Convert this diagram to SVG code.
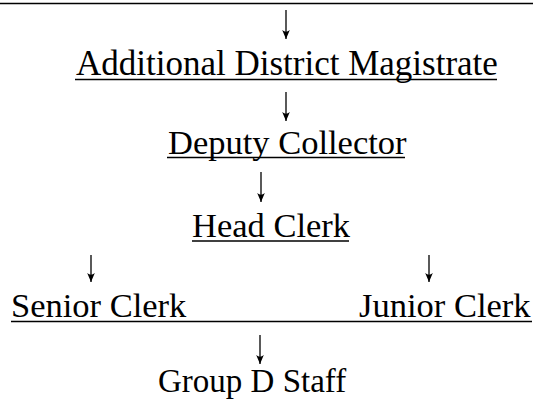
<svg xmlns="http://www.w3.org/2000/svg" width="533" height="400" viewBox="0 0 533 400">
<style>
  .lbl { font-family: "Liberation Serif", Tinos, "Times New Roman", "DejaVu Serif", serif; font-size: 34.5px; fill: #000; }
  .ul { stroke: #000; stroke-width: 1.6; fill: none; }
  .arrow { stroke: #000; stroke-width: 1.3; fill: none; marker-end: url(#head); }
</style>
<defs>
  <marker id="head" markerUnits="userSpaceOnUse" markerWidth="12" markerHeight="10" viewBox="-10 -5 12 10" refX="0" refY="0" orient="auto" overflow="visible">
    <path d="M-9,-3.8 L0,0 L-9,3.8 Q-5.5,0 -9,-3.8 Z" fill="#000"/>
  </marker>
</defs>
<rect width="533" height="400" fill="#fff"/>
<line x1="0" y1="3.5" x2="533" y2="3.5" stroke="#000" stroke-width="1.6"/>
<g id="connectors">
  <line class="arrow" x1="286" y1="10" x2="286" y2="39"/>
  <line class="arrow" x1="286" y1="92" x2="286" y2="121"/>
  <line class="arrow" x1="261" y1="172" x2="261" y2="202"/>
  <line class="arrow" x1="91" y1="255" x2="91" y2="282"/>
  <line class="arrow" x1="429" y1="255" x2="429" y2="282"/>
  <line class="arrow" x1="260" y1="335" x2="260" y2="364"/>
</g>
<g id="adm">
  <text class="lbl" style="font-size:35px" x="76" y="74.5">Additional District Magistrate</text>
  <line class="ul" x1="75" y1="79.5" x2="497" y2="79.5"/>
</g>
<g id="deputy-collector">
  <text class="lbl" x="168" y="154">Deputy Collector</text>
  <line class="ul" x1="167" y1="157.5" x2="405" y2="157.5"/>
</g>
<g id="head-clerk">
  <text class="lbl" x="192" y="237">Head Clerk</text>
  <line class="ul" x1="192" y1="241" x2="349" y2="241"/>
</g>
<g id="senior-clerk">
  <text class="lbl" x="11" y="316.5">Senior Clerk</text>
</g>
<g id="junior-clerk">
  <text class="lbl" x="359" y="316.5">Junior Clerk</text>
</g>
<line class="ul" x1="11" y1="321.5" x2="532" y2="321.5"/>
<g id="group-d-staff">
  <text class="lbl" style="font-size:33px" x="158" y="392">Group D Staff</text>
</g>
</svg>
